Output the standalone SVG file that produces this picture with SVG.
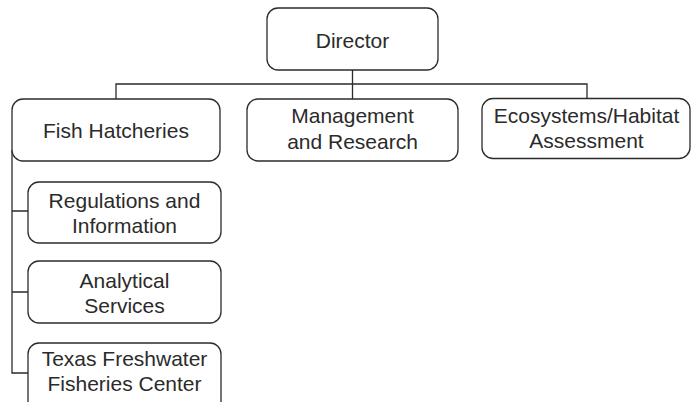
<svg xmlns="http://www.w3.org/2000/svg" width="691" height="402" viewBox="0 0 691 402">
<style>
.box{fill:#fff;stroke:#2b2b2b;stroke-width:1.3}
.lbl{font-family:"Liberation Sans",Arial,sans-serif;font-size:21px;fill:#2b2b2b;text-anchor:middle}
.conn{fill:none;stroke:#2b2b2b;stroke-width:1.3}
</style>
<rect width="691" height="402" fill="#fff"/>
<g id="connectors">
<path class="conn" d="M352.5 70 V99 M116 99 V84 H587 V99"/>
<path class="conn" d="M12 150 V373 H28 M12 211 H28 M12 292 H28"/>
</g>
<g id="director">
<rect class="box" x="267" y="8" width="171" height="62" rx="11"/>
<text class="lbl" x="352.5" y="48">Director</text>
</g>
<g id="fish-hatcheries">
<rect class="box" x="12" y="99" width="208" height="62" rx="11"/>
<text class="lbl" x="116" y="138">Fish Hatcheries</text>
</g>
<g id="management-research">
<rect class="box" x="247" y="99" width="211" height="62" rx="11"/>
<text class="lbl" x="352.5" y="123">Management</text>
<text class="lbl" x="352.5" y="149">and Research</text>
</g>
<g id="ecosystems-habitat">
<rect class="box" x="482" y="98.5" width="208" height="60" rx="11"/>
<text class="lbl" x="586.5" y="123">Ecosystems/Habitat</text>
<text class="lbl" x="586.5" y="148">Assessment</text>
</g>
<g id="regulations-information">
<rect class="box" x="28" y="182" width="193" height="61" rx="11"/>
<text class="lbl" x="124.5" y="208">Regulations and</text>
<text class="lbl" x="124.5" y="233">Information</text>
</g>
<g id="analytical-services">
<rect class="box" x="28" y="261" width="193" height="62" rx="11"/>
<text class="lbl" x="124.5" y="288">Analytical</text>
<text class="lbl" x="124.5" y="313">Services</text>
</g>
<g id="texas-freshwater">
<rect class="box" x="28" y="343" width="193" height="70" rx="11"/>
<text class="lbl" x="124.5" y="366">Texas Freshwater</text>
<text class="lbl" x="124.5" y="391">Fisheries Center</text>
</g>
</svg>
